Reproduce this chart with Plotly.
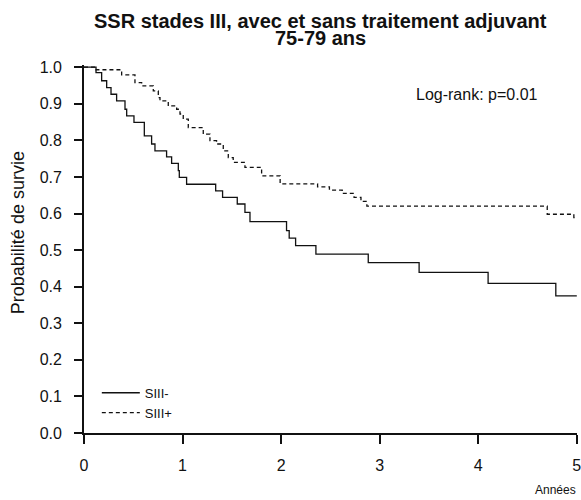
import plotly.graph_objects as go

# SIII- (solid) : step times (years) and survival probabilities
siii_minus_t = [0, 0.122, 0.179, 0.230, 0.274, 0.331, 0.416, 0.433, 0.507, 0.612,
                0.686, 0.720, 0.838, 0.889, 0.957, 0.967, 1.041, 1.336, 1.406, 1.555,
                1.633, 1.684, 2.055, 2.082, 2.147, 2.353, 2.884, 3.40, 4.10, 4.787, 5.0]
siii_minus_s = [1.0, 0.985, 0.963, 0.944, 0.926, 0.908, 0.885, 0.867, 0.849, 0.812,
                0.790, 0.771, 0.755, 0.737, 0.717, 0.699, 0.680, 0.662, 0.644, 0.626,
                0.603, 0.578, 0.553, 0.533, 0.512, 0.489, 0.466, 0.439, 0.409, 0.375, 0.375]

# SIII+ (dashed)
siii_plus_t = [0, 0.122, 0.382, 0.517, 0.585, 0.703, 0.754, 0.771, 0.855, 0.940,
               0.974, 1.007, 1.058, 1.210, 1.278, 1.345, 1.413, 1.464, 1.514, 1.633,
               1.802, 1.99, 2.37, 2.49, 2.62, 2.74, 2.81, 2.87, 4.70, 4.97, 5.0]
siii_plus_s = [1.0, 0.993, 0.979, 0.958, 0.949, 0.935, 0.917, 0.908, 0.894, 0.885,
               0.872, 0.858, 0.835, 0.817, 0.799, 0.790, 0.771, 0.753, 0.740, 0.726,
               0.703, 0.681, 0.673, 0.664, 0.655, 0.644, 0.633, 0.620, 0.598, 0.589, 0.589]

x_ticks = [0, 1, 2, 3, 4, 5]
y_ticks = [0.0, 0.1, 0.2, 0.3, 0.4, 0.5, 0.6, 0.7, 0.8, 0.9, 1.0]
y_tick_labels = ["0.0", "0.1", "0.2", "0.3", "0.4", "0.5", "0.6", "0.7", "0.8", "0.9", "1.0"]

FONT = "Liberation Sans, Arial, sans-serif"
NB = "\u00a0\u00a0"  # keeps the y tick labels away from the ticks

fig = go.Figure()
fig.add_trace(go.Scatter(x=siii_minus_t, y=siii_minus_s, mode="lines", line_shape="hv",
                         name="SIII-", line=dict(color="#111111", width=1.3)))
fig.add_trace(go.Scatter(x=siii_plus_t, y=siii_plus_s, mode="lines", line_shape="hv",
                         name="SIII+", line=dict(color="#111111", width=1.3, dash="4px,3px")))

fig.update_layout(
    width=581, height=500,
    margin=dict(l=84, r=4, t=65, b=67, autoexpand=False),
    paper_bgcolor="white", plot_bgcolor="white",
    font=dict(family=FONT, color="#111111", size=13),
    showlegend=True,
    legend=dict(x=0.026, y=0.15, xanchor="left", yanchor="top",
                bgcolor="rgba(0,0,0,0)", font=dict(size=13, family=FONT),
                tracegroupgap=0, itemwidth=38),
    xaxis=dict(range=[0, 5.002], tickvals=x_ticks, ticks="outside", ticklen=9, tickwidth=2,
               showline=True, linewidth=2, linecolor="#111111", tickcolor="#111111",
               showgrid=False, zeroline=False, tickfont=dict(size=16, family=FONT),
               ticklabelstandoff=8, ticklabeloverflow="allow", automargin=False),
    yaxis=dict(range=[0, 1.006], tickvals=y_ticks, ticktext=[t + NB for t in y_tick_labels],
               ticks="outside", ticklen=8, tickwidth=2, showline=True, linewidth=2,
               linecolor="#111111", tickcolor="#111111", showgrid=False, zeroline=False,
               tickfont=dict(size=16, family=FONT), automargin=False),
    annotations=[
        dict(text="<b>SSR stades III, avec et sans traitement adjuvant</b>", xref="paper", yref="paper",
             x=0.48, y=1.0, yshift=44, xanchor="center", yanchor="middle", showarrow=False,
             font=dict(size=20, family=FONT)),
        dict(text="<b>75-79 ans</b>", xref="paper", yref="paper",
             x=0.48, y=1.0, yshift=27, xanchor="center", yanchor="middle", showarrow=False,
             font=dict(size=20, family=FONT)),
        dict(text="Log-rank: p=0.01", xref="paper", yref="paper",
             x=0.925, y=0.921, xanchor="right", yanchor="middle", showarrow=False,
             font=dict(size=16, family=FONT)),
        dict(text="Probabilité de survie", xref="paper", yref="paper", textangle=-90,
             x=0.0, xshift=-66, y=0.543, xanchor="center", yanchor="middle", showarrow=False,
             font=dict(size=18, family=FONT)),
        dict(text="Années", xref="paper", yref="paper",
             x=1.0, y=0.0, xshift=1, yshift=-57, xanchor="right", yanchor="middle", showarrow=False,
             font=dict(size=12, family=FONT)),
    ],
)

fig.write_html("out.html", config={"displayModeBar": False},
               post_script="document.body.style.margin='0';document.body.style.overflow='hidden';")
